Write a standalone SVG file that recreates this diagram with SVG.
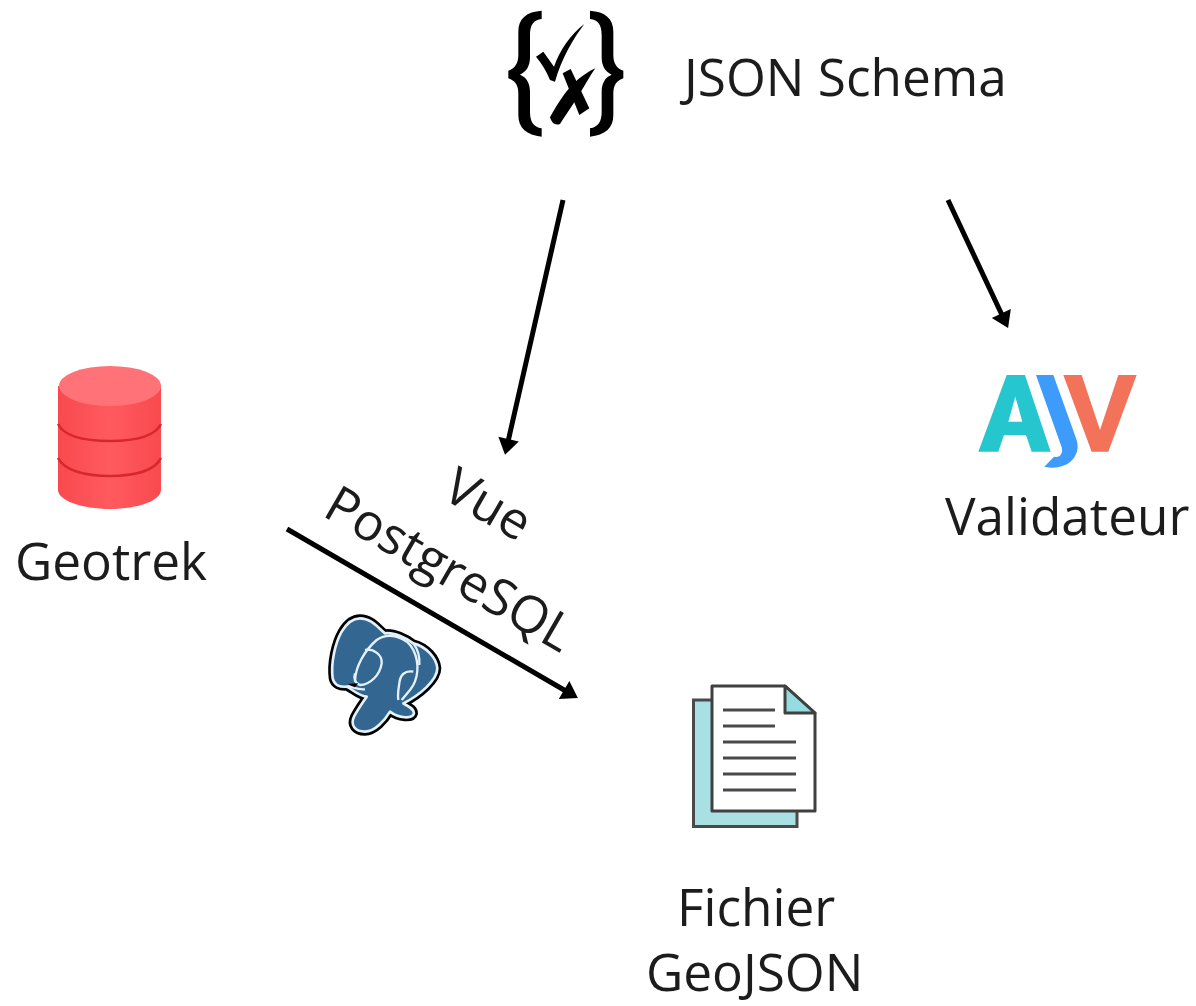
<svg xmlns="http://www.w3.org/2000/svg" width="1196" height="1006" viewBox="0 0 1196 1006">
<style>
text{font-family:"Open Sans","Noto Sans",sans-serif;font-size:51.3px;fill:#1c1c1c}
.c{stroke:#000;stroke-width:5;fill:none;marker-end:url(#a)}
.l{stroke:#4a4a4a;stroke-width:3}
.z{fill:none;stroke:#e4f1fa;stroke-width:7;stroke-linejoin:round}
</style>
<defs>
<marker id="a" markerUnits="userSpaceOnUse" markerWidth="24" markerHeight="24" refX="10" refY="12" orient="auto" viewBox="0 0 24 24"><path d="M2 1.500L18 12L2 22.500Z" fill="#000"/></marker>
<linearGradient id="d" x1="0" x2="1" y1="0" y2="0"><stop offset="0" stop-color="#f8494e"/><stop offset=".5" stop-color="#ff5a5f"/><stop offset="1" stop-color="#f84a4f"/></linearGradient>
<path id="brace" d="M155 32C110 35 85 55 85 95V165C85 190 75 205 55 212V235C75 242 85 255 85 280V345C85 385 110 405 155 410V385C130 380 120 365 120 335V275C120 250 110 232 90 224C110 215 120 197 120 172V105C120 75 130 60 155 57Z"/>
<path id="eleph" d="M150 55C185 55 205 85 225 100C250 95 290 115 310 130C350 140 380 175 382 205C382 240 330 285 280 310C295 320 312 325 312 340C308 358 265 355 240 335C225 360 195 395 165 395C135 395 120 375 132 350C145 325 160 305 170 290C150 290 130 270 110 260C90 262 72 255 68 235C62 190 75 130 95 95C110 70 130 55 150 55Z"/>
</defs>
<rect width="1196" height="1006" fill="#fff"/>
<g id="connectors">
<path class="c" d="M563 200L506.800 447"/>
<path class="c" d="M948 200L1004.700 320.800"/>
<path class="c" d="M287 529L571 694"/>
</g>
<g id="json-schema">
<g transform="translate(490 0) scale(.33333)">
<use href="#brace"/>
<use href="#brace" transform="translate(455 0) scale(-1 1)"/>
<path d="M138 170L160 155L192 200C210 150 240 105 283 72C250 115 215 175 195 245L180 240C170 215 155 190 138 170Z"/>
<path d="M218 220L242 207L298 325L268 345Z"/>
<path d="M316 205C295 235 270 285 210 372Q188 380 180 352C205 310 240 240 316 205Z"/>
</g>
<text x="684" y="96">JSON Schema</text>
</g>
<g id="ajv">
<g transform="translate(960 360) scale(.33333)">
<path fill="#26c6cf" fill-rule="evenodd" d="M55 275L140 45H195L272 275H215L198 225H132L115 275ZM145 185H187L166 110Z"/>
<path fill="#3d9bfb" d="M228 45H280L350 240C365 290 320 335 253 320L282 290C300 295 310 280 305 262Z"/>
<path fill="#f2725a" d="M310 45H365L420 210L475 45H530L445 275H395Z"/>
</g>
<text x="945" y="535">Validateur</text>
</g>
<g id="geotrek">
<path fill="url(#d)" d="M58 386V490C58 500 81 509 110 509C139 509 161 500 161 490V386Z"/>
<ellipse cx="110" cy="386" rx="51" ry="20" fill="#ff7278"/>
<path d="M58 424C64 436 84 441 110 441C136 441 155 436 161 424M58 458C64 470 84 476 110 476C136 476 155 470 161 458" fill="none" stroke="#d8262e" stroke-width="2.500"/>
<text x="15" y="580">Geotrek</text>
</g>
<g id="postgresql" transform="translate(310 600) scale(.33333)">
<use href="#eleph" fill="#000" stroke="#000" stroke-width="24" stroke-linejoin="round"/>
<use href="#eleph" fill="#336791" stroke="#e4f1fa" stroke-width="8" stroke-linejoin="round"/>
<path class="z" d="M135 245C135 200 165 150 200 120C235 95 290 110 310 150C330 190 325 240 300 270L275 300"/>
<path class="z" d="M165 150C190 145 218 165 215 190C210 225 180 255 150 255C135 250 130 235 135 220"/>
<path class="z" d="M310 215C285 210 270 225 268 250C265 270 262 285 265 300"/>
<path class="z" d="M310 130C325 150 330 170 328 195"/>
<path class="z" d="M112 258C130 262 145 270 165 268"/>
<path d="M112 252L145 250L135 262Z" fill="#000"/>
</g>
<g id="fichier">
<rect x="693.500" y="700" width="103.500" height="126.500" fill="#a8e0e3" stroke="#4a4a4a" stroke-width="3"/>
<path d="M712 686H785L815 713V811H712Z" fill="#fff" stroke="#404040" stroke-width="3" stroke-linejoin="round"/>
<path d="M785 686L815 713H785Z" fill="#96dbdf" stroke="#404040" stroke-width="3" stroke-linejoin="round"/>
<path class="l" d="M723 710H775M723 726H775M723 742H796M723 758H796M723 774H796M723 790H796"/>
<text x="677" y="926">Fichier</text>
<text x="646" y="990.500">GeoJSON</text>
</g>
<g id="vue-label">
<text transform="translate(440 497) rotate(30)">Vue</text>
<text transform="translate(321 515) rotate(30)">PostgreSQL</text>
</g>
</svg>
